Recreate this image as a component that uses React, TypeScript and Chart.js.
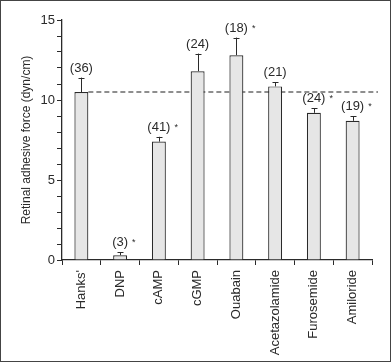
import React, { useEffect, useRef } from "react";
import { Chart, registerables } from "chart.js";

Chart.register(...registerables);

const categories = ["Hanks'", "DNP", "cAMP", "cGMP", "Ouabain", "Acetazolamide", "Furosemide", "Amiloride"];
const means = [10.5, 0.3, 7.4, 11.8, 12.8, 10.85, 9.2, 8.7];
const errors = [0.9, 0.18, 0.3, 1.1, 1.1, 0.25, 0.3, 0.3];
const nLabels = ["(36)", "(3)", "(41)", "(24)", "(18)", "(21)", "(24)", "(19)"];
const significant = [false, true, true, false, true, false, true, true];
const referenceValue = 10.5;
const yTicks = [0, 5, 10, 15];

const FONT = "'Liberation Sans', Arial, Helvetica, sans-serif";
const INK = "#2a2a2a";

const overlayPlugin = {
  id: "overlay",
  beforeDatasetsDraw(chart: any) {
    const ctx = chart.ctx;
    const x = chart.scales.x;
    const y = chart.scales.y;
    const meta = chart.getDatasetMeta(0);
    const bar0 = meta.data[0];
    const xStart = bar0.x + bar0.width / 2;
    const yy = y.getPixelForValue(referenceValue);
    ctx.save();
    ctx.strokeStyle = "#6a6a6a";
    ctx.lineWidth = 1.3;
    ctx.setLineDash([5, 3]);
    ctx.beginPath();
    ctx.moveTo(xStart, yy);
    ctx.lineTo(x.right + 6, yy);
    ctx.stroke();
    ctx.restore();
  },
  afterDatasetsDraw(chart: any) {
    const ctx = chart.ctx;
    const y = chart.scales.y;
    const meta = chart.getDatasetMeta(0);
    ctx.save();
    meta.data.forEach((bar: any, i: number) => {
      const top = y.getPixelForValue(means[i]);
      const et = y.getPixelForValue(means[i] + errors[i]);
      ctx.strokeStyle = INK;
      ctx.lineWidth = 1;
      ctx.setLineDash([]);
      ctx.beginPath();
      ctx.moveTo(Math.round(bar.x) + 0.5, top);
      ctx.lineTo(Math.round(bar.x) + 0.5, et);
      ctx.moveTo(Math.round(bar.x) - 2.5, Math.round(et) + 0.5);
      ctx.lineTo(Math.round(bar.x) + 3.5, Math.round(et) + 0.5);
      ctx.stroke();
      ctx.fillStyle = INK;
      ctx.font = `13px ${FONT}`;
      ctx.textAlign = "center";
      ctx.textBaseline = "bottom";
      ctx.fillText(nLabels[i], bar.x, et - 3);
      if (significant[i]) {
        const w = ctx.measureText(nLabels[i]).width;
        ctx.font = `9px ${FONT}`;
        ctx.textAlign = "left";
        ctx.fillText("*", bar.x + w / 2 + 4, et - 5);
      }
    });
    ctx.restore();
  },
};

export default function App() {
  const ref = useRef<HTMLCanvasElement>(null);
  useEffect(() => {
    document.body.style.margin = "0";
    const chart = new Chart(ref.current!, {
      type: "bar",
      data: {
        labels: categories,
        datasets: [
          {
            data: means,
            backgroundColor: "#e6e6e6",
            borderColor: INK,
            borderWidth: 1.2,
            barPercentage: 0.36,
            categoryPercentage: 1,
          },
        ],
      },
      options: {
        animation: false,
        responsive: false,
        maintainAspectRatio: false,
        layout: { padding: { top: 19, right: 18, left: 0, bottom: 0 } },
        plugins: { legend: { display: false }, tooltip: { enabled: false } },
        scales: {
          x: {
            grid: { display: true, drawOnChartArea: false, offset: true, tickLength: 5, color: INK, lineWidth: 1 },
            border: { display: true, color: INK, width: 1.3 },
            ticks: {
              minRotation: 90,
              maxRotation: 90,
              padding: 5,
              autoSkip: false,
              color: INK,
              font: { family: FONT, size: 13 },
            },
            afterFit: (s: any) => {
              s.height = 101;
            },
          },
          y: {
            min: 0,
            max: 15,
            grid: { display: true, drawOnChartArea: false, tickLength: 5, color: INK, lineWidth: 1 },
            border: { display: true, color: INK, width: 1.3 },
            ticks: {
              stepSize: 1,
              autoSkip: false,
              padding: 2,
              color: INK,
              font: { family: FONT, size: 13 },
              callback: (v: any) => (yTicks.includes(Number(v)) ? String(v) : ""),
            },
            title: {
              display: true,
              text: "Retinal adhesive force (dyn/cm)",
              color: INK,
              font: { family: FONT, size: 12 },
              padding: { top: 18, bottom: 0 },
            },
            afterFit: (s: any) => {
              s.width = 61;
            },
          },
        },
      },
      plugins: [overlayPlugin],
    });
    return () => chart.destroy();
  }, []);
  return (
    <div style={{ position: "relative", width: 391, height: 362, boxSizing: "border-box", border: "1px solid #444", background: "#fff" }}>
      <canvas ref={ref} width={389} height={360} style={{ display: "block" }} />
    </div>
  );
}
